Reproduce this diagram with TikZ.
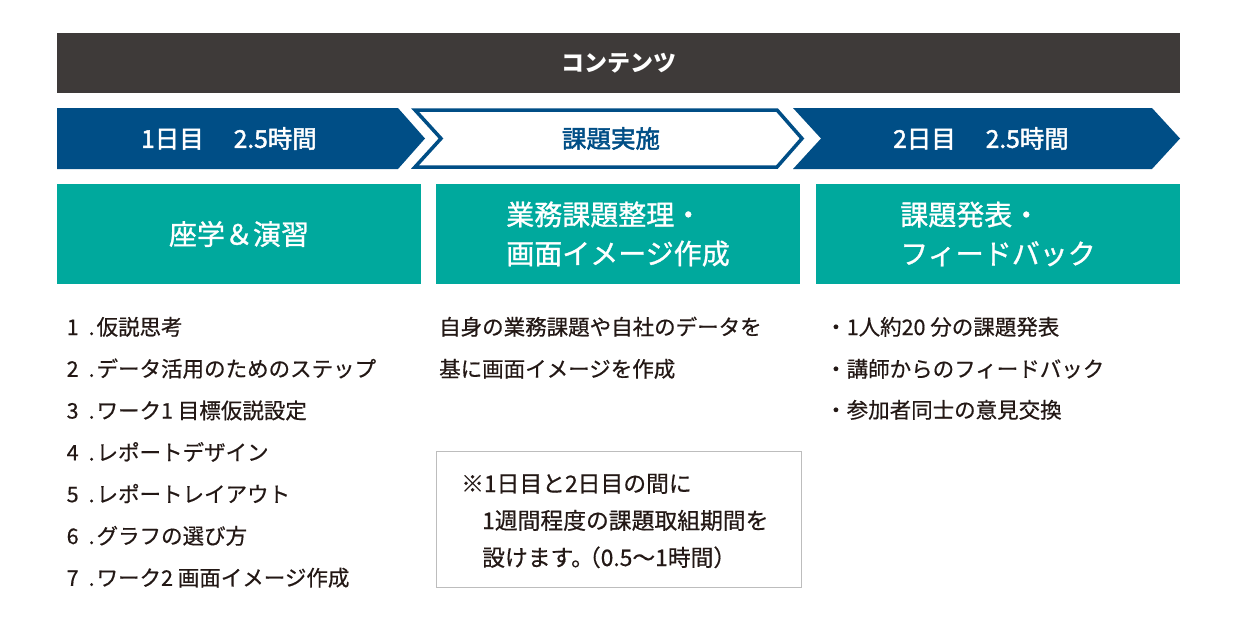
\documentclass[tikz,border=0pt]{standalone}
\usepackage{fontspec}
\setmainfont{Noto Sans CJK JP}
\newfontfamily\chevfont[FakeBold=2]{Noto Sans CJK JP}
\newfontfamily\titlefont[FakeBold=1]{Noto Sans CJK JP}
\newfontfamily\bodyfont[FakeBold=0.5]{Noto Sans CJK JP}
\definecolor{hdrgray}{HTML}{3E3A39}
\definecolor{navy}{HTML}{004E86}
\definecolor{tealbox}{HTML}{00A99D}
\definecolor{txt}{HTML}{231815}
\definecolor{noteframe}{HTML}{BDBDBD}
\begin{document}
\begin{tikzpicture}[x=1pt,y=-1pt,
  titlebox/.style={fill=tealbox, text=white, minimum width=364pt, minimum height=100pt,
    inner sep=0pt, align=left, font=\titlefont\fontsize{28}{39}\selectfont},
  chevtext/.style={font=\chevfont\fontsize{24.5}{26}\selectfont, inner sep=0pt},
  body/.style={anchor=base west, inner sep=0pt, text=txt, font=\bodyfont\fontsize{21.5}{26}\selectfont},
  notetext/.style={body, font=\bodyfont\fontsize{22.8}{26}\selectfont}]
\fill[white] (0,0) rectangle (1235,624);
\useasboundingbox (0,0) rectangle (1235,624);
% header
\node[fill=hdrgray, minimum width=1123pt, minimum height=60pt, inner sep=0pt, text=white,
  font=\fontsize{23}{26}\selectfont\bfseries] (hdr) at (618.5,63) {コンテンツ};
% chevrons
\fill[navy] (57,108) -- (398,108) -- (425,138.5) -- (398,169) -- (57,169) -- cycle;
\draw[navy, line width=3.5pt, line join=miter] (415,110) -- (777,110) -- (802,138.5) -- (777,167) -- (415,167) -- (441,138.5) -- cycle;
\fill[navy] (793,108) -- (1152,108) -- (1180,138.5) -- (1152,169) -- (793,169) -- (821,138.5) -- cycle;
\node[chevtext, text=white] (d1) at (229,138.5) {1日目\hspace{30pt}2.5時間};
\node[chevtext, text=navy] (impl) at (611,138.5) {課題実施};
\node[chevtext, text=white] (d2) at (981,138.5) {2日目\hspace{30pt}2.5時間};
% title boxes
\node[titlebox] (t1) at (239,234) {座学＆演習};
\node[titlebox] (t2) at (618,234) {業務課題整理・\\画面イメージ作成};
\node[titlebox] (t3) at (998,234) {課題発表・\\フィードバック};
% left list
\foreach \i/\t in {1/仮説思考, 2/データ活用のためのステップ, 3/ワーク1 目標仮説設定,
  4/レポートデザイン, 5/レポートレイアウト, 6/グラフの選び方, 7/ワーク2 画面イメージ作成}{
  \node[body] (l\i) at (66.5,{335+41.8*(\i-1)}) {\i\hspace{10pt}.\hspace{2pt}\t};
}
% middle text
\node[body] (m1) at (439,335) {自身の業務課題や自社のデータを};
\node[body] (m2) at (439,377) {基に画面イメージを作成};
% right list
\node[body] (r1) at (825,335) {・1人約20 分の課題発表};
\node[body] (r2) at (825,377) {・講師からのフィードバック};
\node[body] (r3) at (825,418) {・参加者同士の意見交換};
% note box
\node[draw=noteframe, line width=1pt, minimum width=365pt, minimum height=136pt, inner sep=0pt] (note) at (618.5,519) {};
\node[notetext] (n1) at (461,492) {※1日目と2日目の間に};
\node[notetext] (n2) at (482,529) {1週間程度の課題取組期間を};
\node[notetext] (n3) at (482,566) {設けます。\hspace{-16pt}（0.5～1時間）};
\end{tikzpicture}
\end{document}
